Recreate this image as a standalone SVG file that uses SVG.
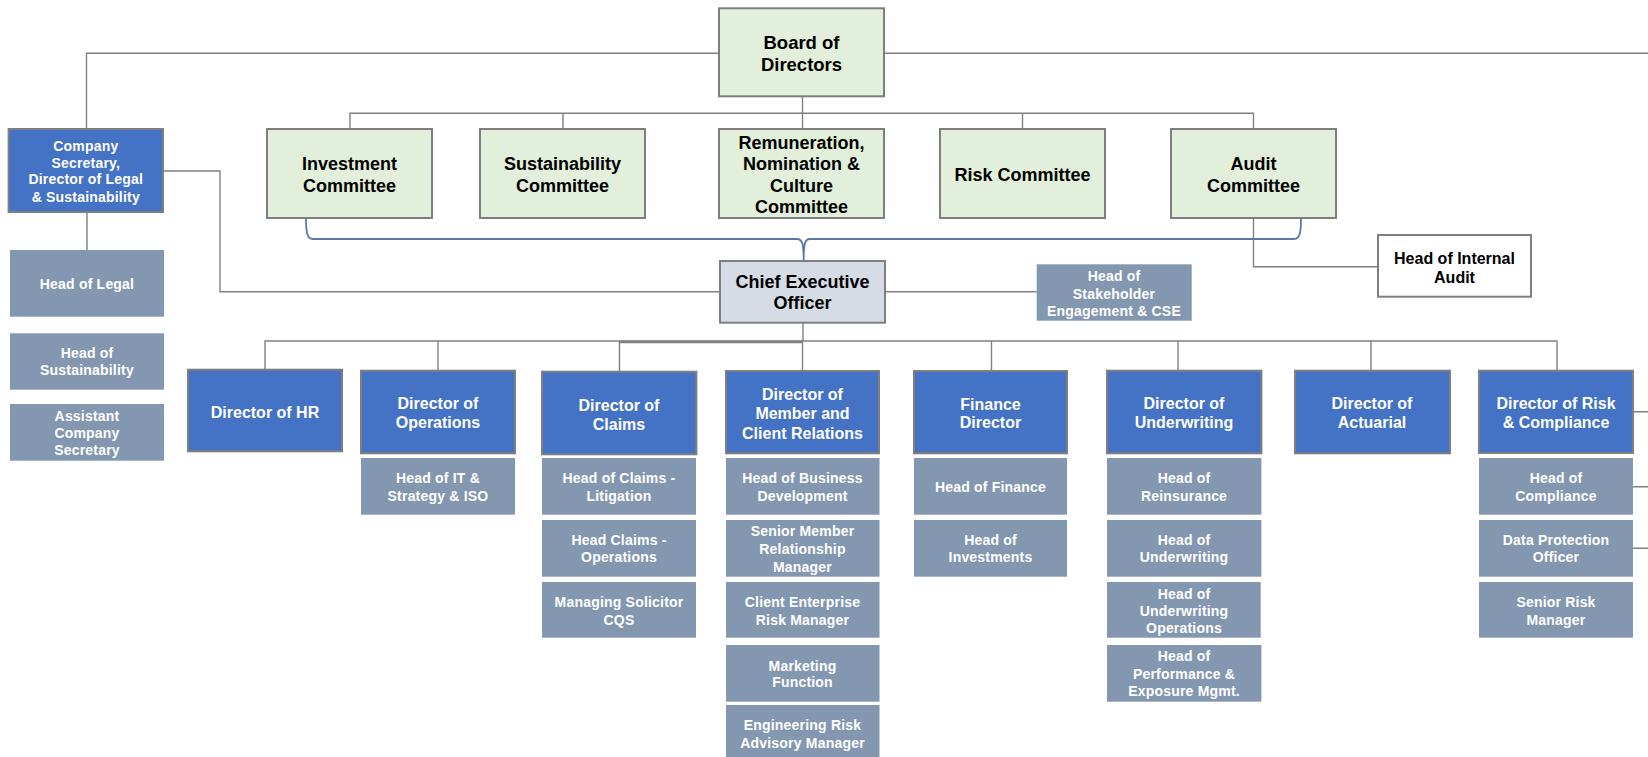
<svg xmlns="http://www.w3.org/2000/svg" width="1648" height="757" viewBox="0 0 1648 757">
<style>
text{font-family:"Liberation Sans",Arial,sans-serif;font-weight:bold;text-anchor:middle}
.com{fill:#E2EFDA;stroke:#7F7F7F;stroke-width:2}
.ceo{fill:#D6DCE5;stroke:#7F7F7F;stroke-width:2}
.wb{fill:#FFFFFF;stroke:#7F7F7F;stroke-width:2}
.dir{fill:#4472C4;stroke:#7F7F7F;stroke-width:2}
.sub{fill:#8497B0}
.tc{font-size:18px;fill:#000}
.tb{font-size:16px;fill:#000}
.td{font-size:16px;fill:#FFFFFF}
.ts{font-size:14px;fill:#FFFFFF;letter-spacing:0.2px}
.ln{fill:none;stroke:#808080;stroke-width:1.4}
.br{fill:none;stroke:#5A78A8;stroke-width:1.8}
</style>
<g id="connectors">
<path class="ln" d="M86.5,129 V53.3 H719"/>
<path class="ln" d="M884,53.3 H1648"/>
<path class="ln" d="M802.5,96.3 V129"/>
<path class="ln" d="M350,129 V113.3 H1253.5 V129"/>
<path class="ln" d="M563,113.3 V129 M1022.5,113.3 V129"/>
<path class="ln" d="M163,171 H220 V291.7 H720"/>
<path class="ln" d="M87,212 V250"/>
<path class="ln" d="M885,291.7 H1036.7"/>
<path class="ln" d="M1253.5,218 V266.7 H1378"/>
<path class="ln" d="M803,322.7 V341"/>
<path class="ln" d="M265,369.7 V341 H1557 V370.7"/>
<path class="ln" d="M619.5,342 H803" style="stroke-width:2.4"/>
<path class="ln" d="M438,341 V370.7 M619.5,341 V371.7 M802.5,341 V371 M991.5,341 V371 M1178,341 V370.7 M1371,341 V370.7"/>
<path class="ln" d="M1633,411.7 H1648 M1633,486.7 H1648 M1633,548.3 H1648"/>
<path class="br" d="M306,218 C306,232 307,239 313,239 L797,239 C802,239 803.7,243 803.7,260 M1301,218 C1301,232 1300,239 1294,239 L810,239 C805,239 803.7,243 803.7,260"/>
</g>
<g id="board"><rect class="com" x="719" y="8.3" width="165" height="88"/><text class="tc" style="font-size:18.5px" x="801.5" y="49.3">Board of</text><text class="tc" style="font-size:18.5px" x="801.5" y="70.9">Directors</text></g>
<g id="investment"><rect class="com" x="267" y="129" width="165" height="89"/><text class="tc" x="349.5" y="169.5">Investment</text><text class="tc" x="349.5" y="191.5">Committee</text></g>
<g id="sustainability"><rect class="com" x="480" y="129" width="165" height="89"/><text class="tc" x="562.5" y="169.5">Sustainability</text><text class="tc" x="562.5" y="191.5">Committee</text></g>
<g id="remuneration"><rect class="com" x="719" y="129" width="165" height="89"/><text class="tc" x="801.5" y="148.5">Remuneration,</text><text class="tc" x="801.5" y="169.5">Nomination &amp;</text><text class="tc" x="801.5" y="191.5">Culture</text><text class="tc" x="801.5" y="213">Committee</text></g>
<g id="risk-committee"><rect class="com" x="940" y="129" width="165" height="89"/><text class="tc" x="1022.5" y="180.5">Risk Committee</text></g>
<g id="audit"><rect class="com" x="1171" y="129" width="165" height="89"/><text class="tc" x="1253.5" y="169.5">Audit</text><text class="tc" x="1253.5" y="191.5">Committee</text></g>
<g id="internal-audit"><rect class="wb" x="1378" y="235" width="153" height="61.7"/><text class="tb" x="1454.5" y="263.5">Head of Internal</text><text class="tb" x="1454.5" y="283">Audit</text></g>
<g id="ceo"><rect class="ceo" x="720" y="261" width="165" height="61.7"/><text class="tc" x="802.5" y="287.5">Chief Executive</text><text class="tc" x="802.5" y="309">Officer</text></g>
<g id="stakeholder"><rect class="sub" x="1036.7" y="264.3" width="155" height="56.4"/><text class="ts" x="1114" y="280.7">Head of</text><text class="ts" x="1114" y="299">Stakeholder</text><text class="ts" x="1114" y="315.7">Engagement &amp; CSE</text></g>
<g id="company-secretary"><rect class="dir" x="8.6" y="129" width="154.4" height="83"/><text class="ts" x="85.8" y="150.7">Company</text><text class="ts" x="85.8" y="167.7">Secretary,</text><text class="ts" x="85.8" y="184.3">Director of Legal</text><text class="ts" x="85.8" y="202">&amp; Sustainability</text></g>
<g id="head-legal"><rect class="sub" x="10" y="250" width="154" height="66.7"/><text class="ts" x="87" y="289">Head of Legal</text></g>
<g id="head-sustainability"><rect class="sub" x="10" y="333.3" width="154" height="56.4"/><text class="ts" x="87" y="358">Head of</text><text class="ts" x="87" y="375">Sustainability</text></g>
<g id="assistant-secretary"><rect class="sub" x="10" y="404" width="154" height="56.7"/><text class="ts" x="87" y="421">Assistant</text><text class="ts" x="87" y="438">Company</text><text class="ts" x="87" y="455">Secretary</text></g>
<g id="dir-hr"><rect class="dir" x="188" y="369.7" width="154" height="81.6"/><text class="td" x="265" y="417.7">Director of HR</text></g>
<g id="dir-operations"><rect class="dir" x="361" y="370.7" width="154" height="82.6"/><text class="td" x="438" y="409">Director of</text><text class="td" x="438" y="428">Operations</text></g>
<g id="dir-claims"><rect class="dir" x="542" y="371.7" width="154.4" height="82.6"/><text class="td" x="619" y="410.7">Director of</text><text class="td" x="619" y="429.7">Claims</text></g>
<g id="dir-member"><rect class="dir" x="726" y="371" width="153" height="82.3"/><text class="td" x="802.5" y="399.7">Director of</text><text class="td" x="802.5" y="419.4">Member and</text><text class="td" x="802.5" y="438.7">Client Relations</text></g>
<g id="dir-finance"><rect class="dir" x="914" y="371" width="153" height="82.3"/><text class="td" x="990.5" y="409.7">Finance</text><text class="td" x="990.5" y="428.4">Director</text></g>
<g id="dir-underwriting"><rect class="dir" x="1107" y="370.7" width="154.4" height="82.6"/><text class="td" x="1184" y="409">Director of</text><text class="td" x="1184" y="428">Underwriting</text></g>
<g id="dir-actuarial"><rect class="dir" x="1295" y="370.7" width="155" height="82.6"/><text class="td" x="1372" y="409">Director of</text><text class="td" x="1372" y="428">Actuarial</text></g>
<g id="dir-risk"><rect class="dir" x="1479" y="370.7" width="154" height="82.3"/><text class="td" x="1556" y="409">Director of Risk</text><text class="td" x="1556" y="428">&amp; Compliance</text></g>
<g id="head-it"><rect class="sub" x="361" y="458" width="154" height="56.7"/><text class="ts" x="438" y="483.3">Head of IT &amp;</text><text class="ts" x="438" y="501">Strategy &amp; ISO</text></g>
<g id="claims-litigation"><rect class="sub" x="542" y="458" width="154" height="56.7"/><text class="ts" x="619" y="483.3">Head of Claims -</text><text class="ts" x="619" y="501">Litigation</text></g>
<g id="claims-operations"><rect class="sub" x="542" y="520" width="154" height="56.7"/><text class="ts" x="619" y="545">Head Claims -</text><text class="ts" x="619" y="562.3">Operations</text></g>
<g id="managing-solicitor"><rect class="sub" x="542" y="582" width="154" height="55.7"/><text class="ts" x="619" y="607.3">Managing Solicitor</text><text class="ts" x="619" y="625">CQS</text></g>
<g id="business-development"><rect class="sub" x="726" y="458" width="153.5" height="56.7"/><text class="ts" x="802.5" y="483.3">Head of Business</text><text class="ts" x="802.5" y="501">Development</text></g>
<g id="senior-member"><rect class="sub" x="726" y="520" width="153.5" height="56.7"/><text class="ts" x="802.5" y="536">Senior Member</text><text class="ts" x="802.5" y="553.7">Relationship</text><text class="ts" x="802.5" y="571.7">Manager</text></g>
<g id="client-enterprise"><rect class="sub" x="726" y="582" width="153.5" height="55.7"/><text class="ts" x="802.5" y="607.3">Client Enterprise</text><text class="ts" x="802.5" y="625">Risk Manager</text></g>
<g id="marketing"><rect class="sub" x="726" y="645" width="153.5" height="56.7"/><text class="ts" x="802.5" y="670.7">Marketing</text><text class="ts" x="802.5" y="687.3">Function</text></g>
<g id="engineering-risk"><rect class="sub" x="726" y="705" width="153.5" height="56"/><text class="ts" x="802.5" y="730.3">Engineering Risk</text><text class="ts" x="802.5" y="748.3">Advisory Manager</text></g>
<g id="head-finance"><rect class="sub" x="914" y="458" width="153" height="56.7"/><text class="ts" x="990.5" y="492">Head of Finance</text></g>
<g id="head-investments"><rect class="sub" x="914" y="520" width="153" height="56.7"/><text class="ts" x="990.5" y="545">Head of</text><text class="ts" x="990.5" y="562.3">Investments</text></g>
<g id="head-reinsurance"><rect class="sub" x="1107" y="458" width="154.4" height="56.7"/><text class="ts" x="1184" y="483.3">Head of</text><text class="ts" x="1184" y="501">Reinsurance</text></g>
<g id="head-underwriting"><rect class="sub" x="1107" y="520" width="154.4" height="56.7"/><text class="ts" x="1184" y="545">Head of</text><text class="ts" x="1184" y="562.3">Underwriting</text></g>
<g id="underwriting-operations"><rect class="sub" x="1107" y="582" width="153.7" height="55.7"/><text class="ts" x="1184" y="599.3">Head of</text><text class="ts" x="1184" y="616.3">Underwriting</text><text class="ts" x="1184" y="633.3">Operations</text></g>
<g id="performance-exposure"><rect class="sub" x="1107" y="645" width="154.4" height="56.7"/><text class="ts" x="1184" y="661">Head of</text><text class="ts" x="1184" y="679">Performance &amp;</text><text class="ts" x="1184" y="696">Exposure Mgmt.</text></g>
<g id="head-compliance"><rect class="sub" x="1479" y="458" width="154" height="56.7"/><text class="ts" x="1556" y="483.3">Head of</text><text class="ts" x="1556" y="501">Compliance</text></g>
<g id="data-protection"><rect class="sub" x="1479" y="520" width="154" height="56.7"/><text class="ts" x="1556" y="545">Data Protection</text><text class="ts" x="1556" y="562.3">Officer</text></g>
<g id="senior-risk"><rect class="sub" x="1479" y="582" width="154" height="55.7"/><text class="ts" x="1556" y="607.3">Senior Risk</text><text class="ts" x="1556" y="625">Manager</text></g>
</svg>
